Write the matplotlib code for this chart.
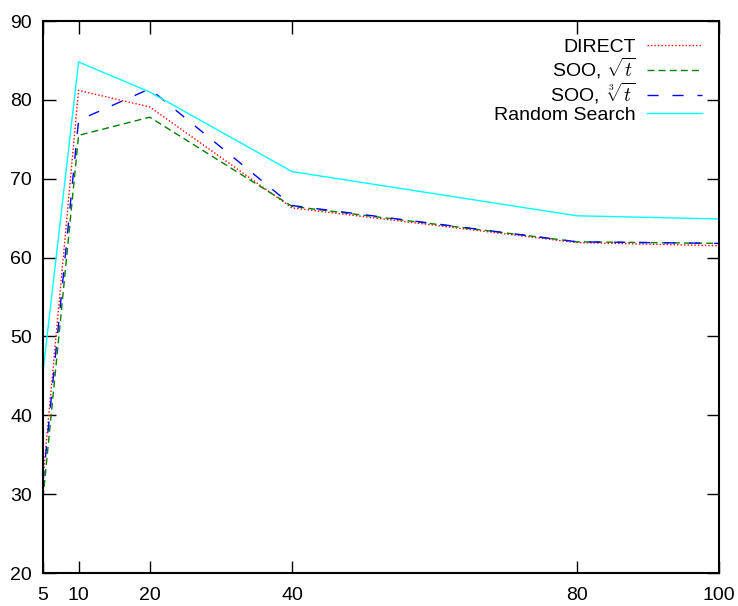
import matplotlib.pyplot as plt

x = [5, 10, 20, 40, 80, 100]
direct = [32.0, 81.2, 79.1, 66.3, 61.9, 61.5]
soo_sqrt = [29.5, 75.5, 77.8, 66.5, 62.0, 61.8]
soo_cbrt = [31.5, 77.4, 81.4, 66.6, 62.0, 61.8]
random_search = [45.5, 84.8, 81.0, 70.9, 65.3, 64.9]

plt.rcParams['font.family'] = 'Liberation Sans'
plt.rcParams['font.size'] = 14
plt.rcParams['mathtext.fontset'] = 'cm'

fig = plt.figure(figsize=(7.38, 6.06), dpi=100)
ax = fig.add_axes([43 / 738, 1 - 573 / 606, 676 / 738, 552 / 606])

ax.plot(x, direct, color='red', linestyle=(0, (1, 1.5)), lw=1, label='DIRECT')
ax.plot(x, soo_sqrt, color='green', linestyle=(0, (5, 3)), lw=1, label=r'SOO, $\sqrt{t}$')
ax.plot(x, soo_cbrt, color='blue', linestyle=(0, (8, 10)), lw=1, label=r'SOO, $\;\sqrt[3]{t}$')
ax.plot(x, random_search, color='cyan', lw=1, label='Random Search')

ax.set_xlim(5, 100)
ax.set_ylim(20, 90)
ax.set_xticks(x)
ax.set_yticks(range(20, 91, 10))
ax.tick_params(direction='in', length=9, width=1, top=True, right=True)
ax.tick_params(axis='x', pad=10)
ax.tick_params(axis='y', pad=8)
for s in ax.spines.values():
    s.set_linewidth(1.5)

ax.legend(loc='upper right', frameon=False, markerfirst=False, handlelength=2.8,
          handletextpad=0.6, labelspacing=0.0, borderaxespad=0.5, fontsize=14)

fig.savefig('out.png', dpi=100)
